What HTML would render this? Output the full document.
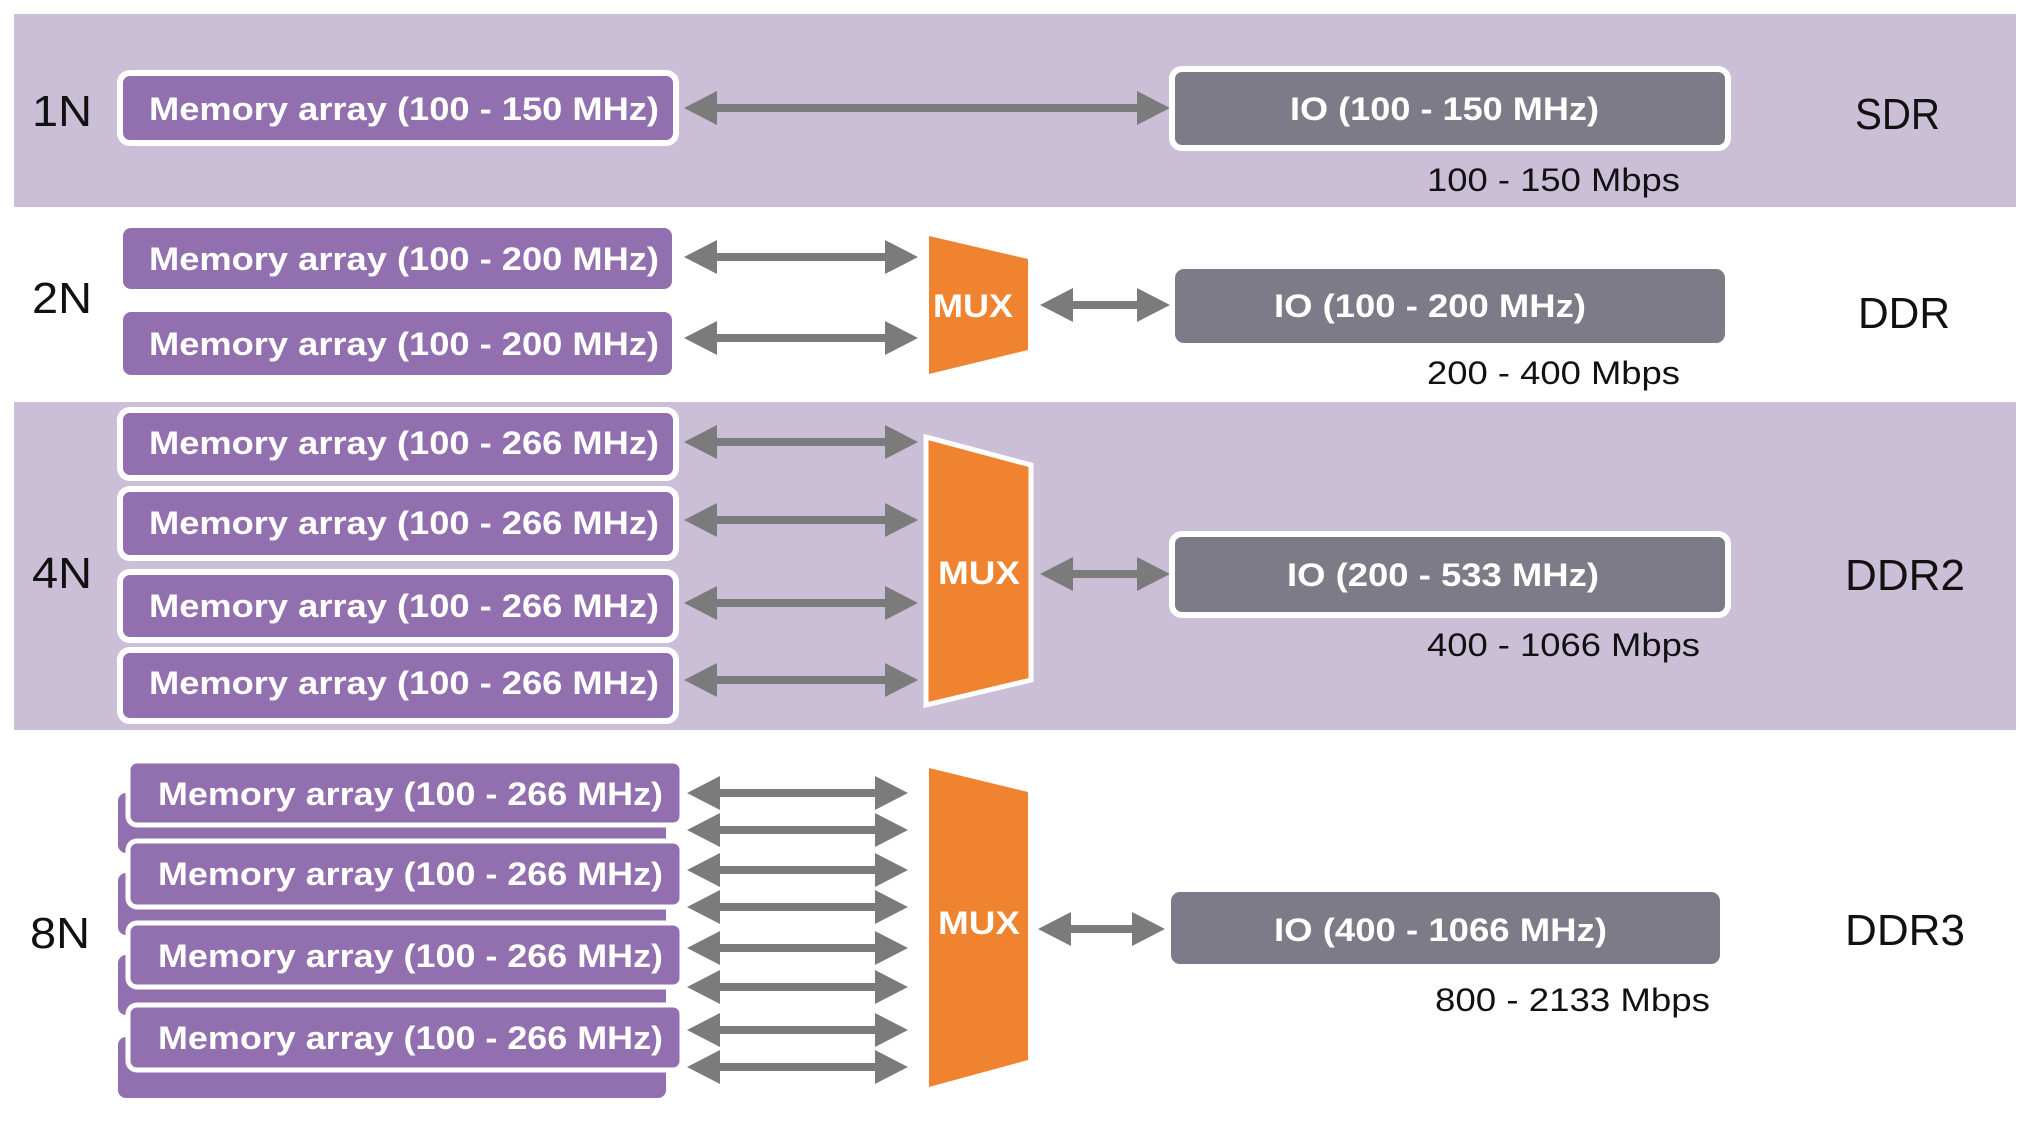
<!DOCTYPE html>
<html><head><meta charset="utf-8"><style>
html,body{margin:0;padding:0;background:#fff;}
svg{display:block;}
.m{font-family:"Liberation Sans",sans-serif;font-weight:bold;font-size:32px;fill:#fff;}
.l{font-family:"Liberation Sans",sans-serif;font-size:44px;fill:#111;}
.r{font-family:"Liberation Sans",sans-serif;font-size:32px;fill:#111;}
</style></head><body>
<svg width="2023" height="1147" viewBox="0 0 2023 1147" xmlns="http://www.w3.org/2000/svg">
<defs>
<polygon id="a" points="684,0 717,-17 717,-4 885,-4 885,-17 918,0 885,17 885,4 717,4 717,17" fill="#7b7b7b"/>
<polygon id="b" points="1040,0 1073,-17 1073,-4 1137,-4 1137,-17 1170,0 1137,17 1137,4 1073,4 1073,17" fill="#7b7b7b"/>
<polygon id="c" points="687,0 720,-17 720,-4 875,-4 875,-17 908,0 875,17 875,4 720,4 720,17" fill="#7b7b7b"/>
</defs>
<rect x="0" y="0" width="2023" height="1147" fill="#fff"/>
<rect x="14" y="14" width="2002" height="193" fill="#cbbfd8"/>
<rect x="14" y="402" width="2002" height="328" fill="#cbbfd8"/>

<!-- 1N -->
<text class="l" x="32" y="126" textLength="60" lengthAdjust="spacingAndGlyphs">1N</text>
<rect x="120" y="73" width="556" height="70" rx="10" fill="#9270b0" stroke="#fff" stroke-width="6"/>
<text class="m" x="149" y="120" textLength="510" lengthAdjust="spacingAndGlyphs">Memory array (100 - 150 MHz)</text>
<polygon points="684,108 717,91 717,104 1137,104 1137,91 1170,108 1137,125 1137,112 717,112 717,125" fill="#7b7b7b"/>
<rect x="1172" y="69" width="556" height="79" rx="10" fill="#7d7b87" stroke="#fff" stroke-width="6"/>
<text class="m" x="1290" y="120" textLength="309" lengthAdjust="spacingAndGlyphs">IO (100 - 150 MHz)</text>
<text class="l" x="1855" y="129" textLength="85" lengthAdjust="spacingAndGlyphs">SDR</text>
<text class="r" x="1427" y="191" textLength="253" lengthAdjust="spacingAndGlyphs">100 - 150 Mbps</text>

<!-- 2N -->
<text class="l" x="32" y="313" textLength="60" lengthAdjust="spacingAndGlyphs">2N</text>
<rect x="123" y="228" width="549" height="61" rx="8" fill="#9270b0"/>
<text class="m" x="149" y="270" textLength="510" lengthAdjust="spacingAndGlyphs">Memory array (100 - 200 MHz)</text>
<rect x="123" y="312" width="549" height="63" rx="8" fill="#9270b0"/>
<text class="m" x="149" y="355" textLength="510" lengthAdjust="spacingAndGlyphs">Memory array (100 - 200 MHz)</text>
<use href="#a" y="257"/><use href="#a" y="338"/>
<polygon points="929,236 1028,259 1028,350 929,374" fill="#f08330"/>
<text class="m" x="933" y="317" textLength="80" lengthAdjust="spacingAndGlyphs">MUX</text>
<use href="#b" y="305"/>
<rect x="1175" y="269" width="550" height="74" rx="9" fill="#7d7b87"/>
<text class="m" x="1274" y="317" textLength="312" lengthAdjust="spacingAndGlyphs">IO (100 - 200 MHz)</text>
<text class="l" x="1858" y="328" textLength="92" lengthAdjust="spacingAndGlyphs">DDR</text>
<text class="r" x="1427" y="384" textLength="253" lengthAdjust="spacingAndGlyphs">200 - 400 Mbps</text>

<!-- 4N -->
<text class="l" x="32" y="588" textLength="60" lengthAdjust="spacingAndGlyphs">4N</text>
<g fill="#9270b0" stroke="#fff" stroke-width="6">
<rect x="120" y="410" width="556" height="68" rx="10"/>
<rect x="120" y="489" width="556" height="69" rx="10"/>
<rect x="120" y="572" width="556" height="68" rx="10"/>
<rect x="120" y="650" width="556" height="71" rx="10"/>
</g>
<text class="m" x="149" y="454" textLength="510" lengthAdjust="spacingAndGlyphs">Memory array (100 - 266 MHz)</text>
<text class="m" x="149" y="534" textLength="510" lengthAdjust="spacingAndGlyphs">Memory array (100 - 266 MHz)</text>
<text class="m" x="149" y="617" textLength="510" lengthAdjust="spacingAndGlyphs">Memory array (100 - 266 MHz)</text>
<text class="m" x="149" y="694" textLength="510" lengthAdjust="spacingAndGlyphs">Memory array (100 - 266 MHz)</text>
<use href="#a" y="442"/><use href="#a" y="520"/><use href="#a" y="603"/><use href="#a" y="680"/>
<polygon points="926,437 1031,465 1031,680 926,705" fill="#f08330" stroke="#fff" stroke-width="5"/>
<text class="m" x="938" y="584" textLength="82" lengthAdjust="spacingAndGlyphs">MUX</text>
<use href="#b" y="574"/>
<rect x="1172" y="534" width="556" height="81" rx="10" fill="#7d7b87" stroke="#fff" stroke-width="6"/>
<text class="m" x="1287" y="586" textLength="312" lengthAdjust="spacingAndGlyphs">IO (200 - 533 MHz)</text>
<text class="l" x="1845" y="590" textLength="120" lengthAdjust="spacingAndGlyphs">DDR2</text>
<text class="r" x="1427" y="656" textLength="273" lengthAdjust="spacingAndGlyphs">400 - 1066 Mbps</text>

<!-- 8N -->
<text class="l" x="30" y="948" textLength="60" lengthAdjust="spacingAndGlyphs">8N</text>
<g fill="#9270b0">
<rect x="118" y="793" width="548" height="60" rx="8"/>
<rect x="118" y="873" width="548" height="62" rx="8"/>
<rect x="118" y="955" width="548" height="60" rx="8"/>
<rect x="118" y="1037" width="548" height="61" rx="8"/>
</g>
<g fill="#9270b0" stroke="#fff" stroke-width="5">
<rect x="128" y="761" width="554" height="64" rx="9"/>
<rect x="128" y="841" width="554" height="66" rx="9"/>
<rect x="128" y="923" width="554" height="64" rx="9"/>
<rect x="128" y="1005" width="554" height="65" rx="9"/>
</g>
<text class="m" x="158" y="805" textLength="505" lengthAdjust="spacingAndGlyphs">Memory array (100 - 266 MHz)</text>
<text class="m" x="158" y="885" textLength="505" lengthAdjust="spacingAndGlyphs">Memory array (100 - 266 MHz)</text>
<text class="m" x="158" y="967" textLength="505" lengthAdjust="spacingAndGlyphs">Memory array (100 - 266 MHz)</text>
<text class="m" x="158" y="1049" textLength="505" lengthAdjust="spacingAndGlyphs">Memory array (100 - 266 MHz)</text>
<use href="#c" y="793"/><use href="#c" y="830"/><use href="#c" y="870"/><use href="#c" y="907"/>
<use href="#c" y="948"/><use href="#c" y="987"/><use href="#c" y="1030"/><use href="#c" y="1067"/>
<polygon points="929,768 1028,792 1028,1060 929,1087" fill="#f08330"/>
<text class="m" x="938" y="934" textLength="82" lengthAdjust="spacingAndGlyphs">MUX</text>
<polygon points="1038,929 1071,912 1071,925 1132,925 1132,912 1165,929 1132,946 1132,933 1071,933 1071,946" fill="#7b7b7b"/>
<rect x="1171" y="892" width="549" height="72" rx="9" fill="#7d7b87"/>
<text class="m" x="1274" y="941" textLength="333" lengthAdjust="spacingAndGlyphs">IO (400 - 1066 MHz)</text>
<text class="l" x="1845" y="945" textLength="120" lengthAdjust="spacingAndGlyphs">DDR3</text>
<text class="r" x="1435" y="1011" textLength="275" lengthAdjust="spacingAndGlyphs">800 - 2133 Mbps</text>
</svg>
</body></html>
